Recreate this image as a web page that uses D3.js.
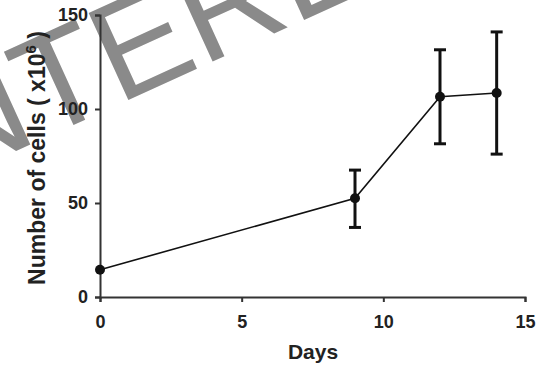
<!DOCTYPE html>
<html lang="en">
<head>
<meta charset="UTF-8">
<title>cells</title>
<script src="https://cdn.jsdelivr.net/npm/d3@7"></script>
<style>
  body { margin: 0; background: #fff; }
  text { font-family: "Liberation Sans", Arial, sans-serif; }
</style>
</head>
<body>
<svg width="548" height="366"></svg>
<script>
  // data
  var days  = [0, 9, 12, 14];
  var cells = [14.5, 52.5, 106.5, 108.5];
  var errLo = [14.5, 37, 81.5, 76];
  var errHi = [14.5, 67.5, 131.5, 141];
  var xTicks = [0, 5, 10, 15];
  var yTicks = [0, 50, 100, 150];

  var svg = d3.select("svg");

  var x = d3.scaleLinear().domain([0, 15]).range([100, 525]);
  var y = d3.scaleLinear().domain([0, 150]).range([297, 15]);

  var pts = days.map(function(d, i) {
    return { day: d, v: cells[i], lo: errLo[i], hi: errHi[i] };
  });

  // watermark (behind the chart)
  svg.append("text")
    .attr("transform", "translate(-135,220) rotate(-24.5)")
    .attr("fill", "#8a8a8a")
    .style("font-size", "139px")
    .text("ENTERED");

  // axes
  var xAxis = svg.append("g")
      .attr("transform", "translate(0," + y(0) + ")")
      .call(d3.axisBottom(x).tickValues(xTicks).tickSize(5).tickPadding(13));
  var yAxis = svg.append("g")
      .attr("transform", "translate(" + x(0) + ",0)")
      .call(d3.axisLeft(y).tickValues(yTicks).tickSize(5).tickPadding(7));

  [xAxis, yAxis].forEach(function(g) {
    g.select(".domain").attr("stroke", "#333").attr("stroke-width", 2);
    g.selectAll(".tick line").attr("stroke", "#333").attr("stroke-width", 2);
    g.selectAll(".tick text")
      .attr("fill", "#222")
      .style("font-size", "18px")
      .style("font-weight", "bold");
  });

  // axis titles
  svg.append("text")
    .attr("x", 313).attr("y", 359)
    .attr("text-anchor", "middle")
    .attr("fill", "#222")
    .style("font-size", "21px").style("font-weight", "bold")
    .text("Days");

  var yl = svg.append("text")
    .attr("transform", "translate(45,158) rotate(-90)")
    .attr("text-anchor", "middle")
    .attr("fill", "#222")
    .style("font-size", "23px").style("font-weight", "bold");
  yl.append("tspan").text("Number of cells ( x10");
  yl.append("tspan").attr("dy", -9).style("font-size", "15px").text("6");
  yl.append("tspan").attr("dy", 9).text(" )");

  // line
  svg.append("path")
    .datum(pts)
    .attr("fill", "none")
    .attr("stroke", "#111")
    .attr("stroke-width", 1.6)
    .attr("d", d3.line().x(function(d) { return x(d.day); }).y(function(d) { return y(d.v); }));

  // error bars
  var eb = svg.append("g").attr("stroke", "#111").attr("stroke-width", 3);
  eb.selectAll("line.v").data(pts).enter().append("line")
    .attr("x1", function(d) { return x(d.day); })
    .attr("x2", function(d) { return x(d.day); })
    .attr("y1", function(d) { return y(d.lo); })
    .attr("y2", function(d) { return y(d.hi); });
  ["lo", "hi"].forEach(function(k) {
    eb.selectAll("line." + k).data(pts.filter(function(d) { return d.hi > d.lo; }))
      .enter().append("line")
      .attr("x1", function(d) { return x(d.day) - 6; })
      .attr("x2", function(d) { return x(d.day) + 6; })
      .attr("y1", function(d) { return y(d[k]); })
      .attr("y2", function(d) { return y(d[k]); });
  });

  // points
  svg.append("g").selectAll("circle")
    .data(pts).enter().append("circle")
    .attr("cx", function(d) { return x(d.day); })
    .attr("cy", function(d) { return y(d.v); })
    .attr("r", 5)
    .attr("fill", "#111");
</script>
</body>
</html>
